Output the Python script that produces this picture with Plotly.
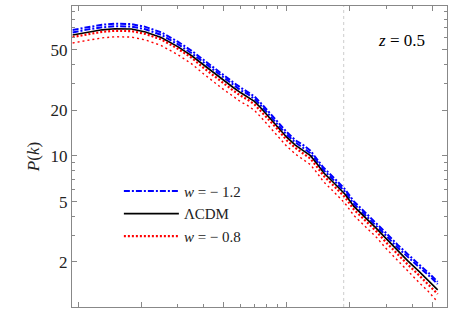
import plotly.graph_objects as go

# wavenumber samples (arbitrary units, log axis)
k = [0.0094, 0.011, 0.013, 0.015, 0.018, 0.021, 0.025, 0.03, 0.035, 0.04, 0.045,
     0.05, 0.055, 0.06, 0.065, 0.07, 0.075, 0.08, 0.09, 0.1, 0.11, 0.12, 0.13,
     0.14, 0.15, 0.17, 0.19, 0.21, 0.24, 0.27, 0.3, 0.34, 0.38, 0.43, 0.48, 0.53]

p_lcdm = [62.8, 65.5, 67.9, 69.0, 68.7, 65.8, 60.5, 52.6, 45.8, 39.8, 35.0,
          31.3, 28.5, 26.2, 24.6, 22.9, 20.8, 18.8, 15.8, 13.3, 11.8, 10.9, 10.05,
          8.85, 7.78, 6.56, 5.61, 4.65, 3.90, 3.32, 2.85, 2.37, 2.04, 1.74, 1.51, 1.31]

p_w12_a = [67.8, 70.7, 73.3, 74.5, 74.1, 71.0, 65.3, 56.8, 49.4, 42.9, 37.8,
           33.8, 30.8, 28.3, 26.5, 24.7, 22.4, 20.3, 17.0, 14.4, 12.7, 11.8, 10.84,
           9.55, 8.39, 7.08, 6.05, 5.02, 4.21, 3.58, 3.10, 2.60, 2.25, 1.93, 1.69, 1.48]

p_w12_b = [65.2, 68.1, 70.5, 71.7, 71.4, 68.4, 62.9, 54.7, 47.6, 41.4, 36.4,
           32.5, 29.6, 27.2, 25.6, 23.8, 21.6, 19.5, 16.4, 13.8, 12.3, 11.3, 10.44,
           9.20, 8.08, 6.82, 5.83, 4.83, 4.05, 3.45, 2.98, 2.49, 2.16, 1.86, 1.63, 1.43]

p_w08_a = [60.9, 63.5, 65.9, 66.9, 66.6, 63.8, 58.7, 51.0, 44.4, 38.0, 33.4,
           29.9, 27.2, 25.0, 23.5, 21.9, 19.9, 18.0, 15.1, 12.7, 11.3, 10.4, 9.60,
           8.45, 7.43, 6.26, 5.36, 4.44, 3.72, 3.17, 2.69, 2.24, 1.93, 1.64, 1.42, 1.23]

p_w08_b = [55.6, 58.0, 60.1, 61.1, 60.8, 58.2, 53.5, 46.6, 40.5, 34.7, 30.5,
           27.3, 24.9, 22.8, 21.5, 20.0, 18.1, 16.4, 13.8, 11.6, 10.3, 9.50, 8.76,
           7.72, 6.78, 5.72, 4.89, 4.05, 3.40, 2.90, 2.45, 2.04, 1.75, 1.47, 1.27, 1.09]

k_marker = 0.1877  # dotted vertical reference line

y_major = [1, 2, 5, 10, 20, 50, 100]
y_labels = ["", "2", "5", "10", "20", "50", ""]
y_minor = [3, 4, 6, 7, 8, 9, 30, 40, 60, 70, 80, 90]
x_major = [0.01, 0.02, 0.05, 0.1, 0.2, 0.5]
x_minor = [0.03, 0.04, 0.06, 0.07, 0.08, 0.09, 0.3, 0.4]

BLUE = "#0000ff"
RED = "#ff0000"
FONT = "'Liberation Serif', 'Times New Roman', Times, serif"

fig = go.Figure()
fig.add_trace(go.Scatter(x=k, y=p_w12_a, mode="lines", showlegend=False,
                         line=dict(color=BLUE, width=2, dash="6px,2px,2px,2px")))
fig.add_trace(go.Scatter(x=k, y=p_w12_b, mode="lines", name="<i>w</i> = − 1.2",
                         line=dict(color=BLUE, width=2, dash="6px,2px,2px,2px")))
fig.add_trace(go.Scatter(x=k, y=p_lcdm, mode="lines", name="ΛCDM",
                         line=dict(color="black", width=1.6)))
fig.add_trace(go.Scatter(x=k, y=p_w08_a, mode="lines", name="<i>w</i> = − 0.8",
                         line=dict(color=RED, width=2.2, dash="2px,2px")))
fig.add_trace(go.Scatter(x=k, y=p_w08_b, mode="lines", showlegend=False,
                         line=dict(color=RED, width=1.4, dash="2px,3px")))

fig.add_shape(type="line", xref="x", yref="paper", x0=k_marker, x1=k_marker,
              y0=0, y1=1, line=dict(color="#cccccc", width=1, dash="dot"), layer="below")

fig.add_annotation(text="<i>z</i> = 0.5", xref="paper", yref="paper", x=0.946, y=0.885,
                   xanchor="right", yanchor="middle", showarrow=False,
                   font=dict(family=FONT, size=17, color="black"))

axis_common = dict(showline=True, linecolor="#888888", linewidth=1, mirror="ticks",
                   ticks="inside", ticklen=5, tickcolor="#888888", showgrid=False,
                   zeroline=False, automargin=False)

fig.update_xaxes(type="log", range=[-2.030, -0.231], tickvals=x_major,
                 showticklabels=False,
                 minor=dict(tickvals=x_minor, ticks="inside", ticklen=3,
                            tickcolor="#888888", showgrid=False),
                 **axis_common)
fig.update_yaxes(type="log", range=[0.004, 1.989], tickvals=y_major, ticktext=y_labels,
                 tickfont=dict(family=FONT, size=17, color="#222222"),
                 minor=dict(tickvals=y_minor, ticks="inside", ticklen=3,
                            tickcolor="#888888", showgrid=False),
                 title=dict(text="<i>P</i>(<i>k</i>)", standoff=6,
                            font=dict(family=FONT, size=17, color="#222222")),
                 **axis_common)

fig.update_layout(
    width=454, height=309,
    margin=dict(l=72, r=7, t=6, b=2),
    paper_bgcolor="white", plot_bgcolor="white",
    font=dict(family=FONT, size=17, color="#222222"),
    legend=dict(x=0.125, y=0.439, xanchor="left", yanchor="top",
                bgcolor="rgba(0,0,0,0)", font=dict(family=FONT, size=15),
                tracegroupgap=0, itemwidth=55),
)

fig.write_html("out.html", config={"displayModeBar": False},
               post_script="document.body.style.margin='0';document.body.style.overflow='hidden';")
